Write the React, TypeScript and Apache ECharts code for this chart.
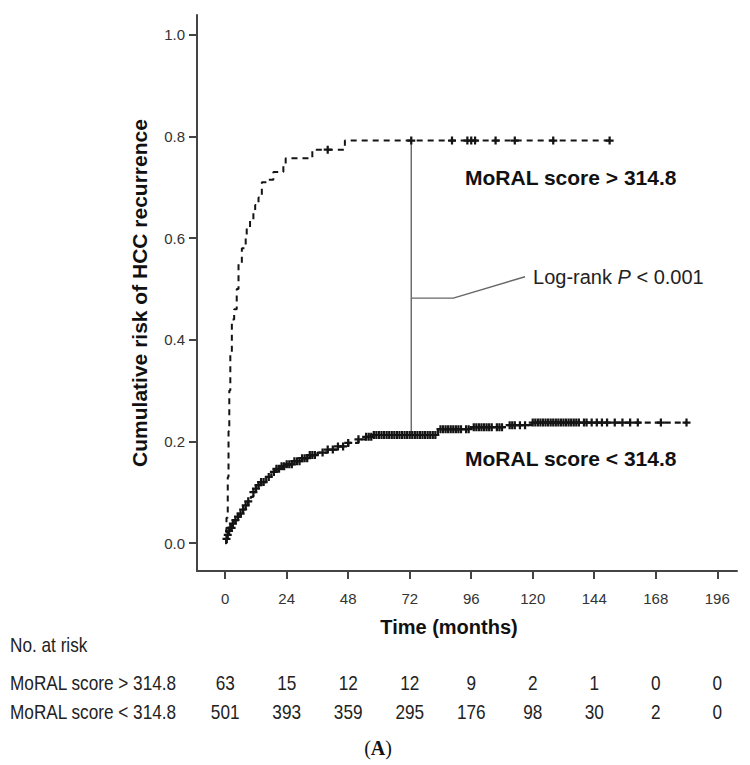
import React, { useEffect, useRef } from "react";
import * as echarts from "echarts";

// Axis ticks
const tickMonths = [0, 24, 48, 72, 96, 120, 144, 168, 192];
const tickLabels = ["0", "24", "48", "72", "96", "120", "144", "168", "196"];
const yTicks = [0, 0.2, 0.4, 0.6, 0.8, 1.0];

// KM step curve: MoRAL score > 314.8 (cumulative risk)
const highTimes = [0, 0.5, 1, 1.3, 1.6, 2.0, 2.6, 3.5, 4.5, 5.2, 6.5, 8, 8.4, 9.7, 11, 11.7, 13, 14.3, 17, 18.8, 22.7, 23.6, 34, 46.7, 150];
const highRisk = [0, 0.05, 0.13, 0.22, 0.3, 0.37, 0.44, 0.46, 0.5, 0.55, 0.58, 0.6, 0.62, 0.635, 0.65, 0.665, 0.68, 0.71, 0.715, 0.73, 0.745, 0.757, 0.774, 0.792, 0.792];
const highCensor = [40, 72.6, 88.5, 94.5, 96, 97.5, 105.5, 113, 128, 150];

// KM step curve: MoRAL score < 314.8
const lowTimes = [0, 0.5, 1, 1.5, 2, 3, 4, 5, 6, 7, 8, 9, 10, 11, 12, 13, 14, 16, 18, 20, 22, 24, 27, 30, 33, 36, 40, 44, 48, 52, 55, 58, 83, 96, 110, 119.5, 180];
const lowRisk = [0, 0.008, 0.016, 0.024, 0.03, 0.038, 0.045, 0.052, 0.058, 0.066, 0.074, 0.082, 0.091, 0.1, 0.107, 0.114, 0.12, 0.13, 0.14, 0.146, 0.151, 0.155, 0.161, 0.167, 0.173, 0.178, 0.184, 0.19, 0.197, 0.204, 0.209, 0.2126, 0.224, 0.228, 0.232, 0.237, 0.237];
const lowCensor = [0.5, 1, 1.5, 2, 2.5, 3, 4, 5, 6, 7, 8, 9, 11, 12, 13, 14, 15, 17, 19, 20, 21, 22, 23, 24, 25, 26, 27, 28, 29, 30, 31, 32, 33, 34, 35, 38, 40, 42, 44, 46, 48, 52, 55, 56, 57, 58, 59, 60, 61, 62, 63, 64, 65, 66, 67, 68, 69, 70, 71, 72, 73, 74, 75, 76, 77, 78, 79, 80, 81, 82, 84, 85, 86, 87, 88, 89, 90, 91, 92, 94, 95, 97, 98, 99, 100, 101, 102, 103, 104, 106, 107, 108, 111, 112, 113, 115, 117, 120, 121, 122, 123, 124, 125, 126, 127, 128, 129, 130, 131, 132, 133, 134, 135, 136, 137, 138, 140, 141, 143, 145, 147, 149, 152, 155, 158, 161, 170, 180];

// Number at risk
const riskHighRow = [63, 15, 12, 12, 9, 2, 1, 0, 0];
const riskLowRow = [501, 393, 359, 295, 176, 98, 30, 2, 0];
const riskRowNames = ["MoRAL score > 314.8", "MoRAL score < 314.8"];

// Log-rank annotation
const bracketMonth = 72.6;
const leaderPts = [[72.6, 0.482], [89, 0.482], [117, 0.524]];

const SANS = '"Liberation Sans", Arial, sans-serif';
const SERIF = '"Liberation Serif", "Times New Roman", serif';

function stepAt(t: number[], v: number[], m: number) {
  let r = v[0];
  for (let i = 0; i < t.length; i++) if (t[i] <= m) r = v[i];
  return r;
}

const plus = "path://M3.6,0H6.4V3.6H10V6.4H6.4V10H3.6V6.4H0V3.6H3.6Z";

export default function App() {
  const ref = useRef<HTMLDivElement>(null);
  useEffect(() => {
    if (!ref.current) return;
    const chart = echarts.init(ref.current, null, { renderer: "svg" });
    const lineCol = "#141414";
    const option: any = {
      animation: false,
      backgroundColor: "#fff",
      grid: { left: 197, right: 13, top: 15, bottom: 194, containLabel: false },
      xAxis: {
        type: "value", min: -11, max: 199.7,
        splitLine: { show: false },
        axisLine: { show: true, onZero: false, lineStyle: { color: "#444", width: 2 } },
        axisTick: { show: true, length: 8, customValues: tickMonths, lineStyle: { color: "#444", width: 2 } },
        axisLabel: {
          customValues: tickMonths, margin: 20, color: "#333", fontSize: 15, fontFamily: SANS,
          formatter: (v: number) => tickLabels[tickMonths.indexOf(v)] ?? "",
        },
      },
      yAxis: {
        type: "value", min: -0.055, max: 1.039,
        splitLine: { show: false },
        axisLine: { show: true, onZero: false, lineStyle: { color: "#444", width: 2 } },
        axisTick: { show: true, length: 8, customValues: yTicks, lineStyle: { color: "#444", width: 2 } },
        axisLabel: {
          customValues: yTicks, margin: 12, color: "#333", fontSize: 15, fontFamily: SANS,
          formatter: (v: number) => v.toFixed(1),
        },
        name: "Cumulative risk of HCC recurrence", nameLocation: "middle", nameGap: 47,
        nameTextStyle: { fontSize: 21, fontWeight: "bold", color: "#111", fontFamily: SANS },
      },
      series: [
        {
          type: "line", name: "bracket", symbol: "none",
          data: [[bracketMonth, stepAt(highTimes, highRisk, bracketMonth)], [bracketMonth, stepAt(lowTimes, lowRisk, bracketMonth)]],
          lineStyle: { color: "#666", width: 1.4 }, z: 1,
        },
        {
          type: "line", name: "leader", symbol: "none",
          data: leaderPts,
          lineStyle: { color: "#666", width: 1.4 }, z: 1,
        },
        {
          type: "line", name: "high", step: "end", symbol: "none",
          data: highTimes.map((t, i) => [t, highRisk[i]]),
          lineStyle: { color: lineCol, width: 2, type: [6, 5] }, z: 3,
        },
        {
          type: "line", name: "low", step: "end", symbol: "none",
          data: lowTimes.map((t, i) => [t, lowRisk[i]]),
          lineStyle: { color: lineCol, width: 2.2, type: [6, 4] }, z: 3,
        },
        {
          type: "scatter", name: "highC", symbol: plus, symbolSize: 8,
          data: highCensor.map((m) => [m, stepAt(highTimes, highRisk, m)]),
          itemStyle: { color: lineCol, opacity: 1 }, z: 4,
        },
        {
          type: "scatter", name: "lowC", symbol: plus, symbolSize: 8,
          data: lowCensor.map((m) => [m, stepAt(lowTimes, lowRisk, m)]),
          itemStyle: { color: lineCol, opacity: 1 }, z: 4,
        },
      ],
    };
    chart.setOption(option);

    // Positions derived from the chart's own scales
    const px = (m: number, v: number) => chart.convertToPixel({ gridIndex: 0 }, [m, v]) as number[];
    const leaderEnd = px(leaderPts[leaderPts.length - 1][0], leaderPts[leaderPts.length - 1][1]);
    const tableFont = `20px ${SANS}`;
    const narrow = 0.86;
    const rowY = [683, 712];
    const graphics: any[] = [
      {
        type: "text", x: 465, y: 177,
        style: { text: "MoRAL score > 314.8", fill: "#111", font: `bold 21px ${SANS}`, textAlign: "left", textVerticalAlign: "middle" },
      },
      {
        type: "text", x: 465, y: 458,
        style: { text: "MoRAL score < 314.8", fill: "#111", font: `bold 21px ${SANS}`, textAlign: "left", textVerticalAlign: "middle" },
      },
      {
        type: "text", x: leaderEnd[0] + 8, y: leaderEnd[1],
        style: {
          text: "{n|Log-rank }{i|P}{n| < 0.001}", fill: "#222", font: `20px ${SANS}`,
          textAlign: "left", textVerticalAlign: "middle",
          rich: {
            n: { fontSize: 20, fontFamily: SANS, fill: "#222" },
            i: { fontSize: 20, fontFamily: SANS, fontStyle: "italic", fill: "#222" },
          },
        },
      },
      {
        type: "text", x: 449, y: 627,
        style: { text: "Time (months)", fill: "#111", font: `bold 20px ${SANS}`, textAlign: "center", textVerticalAlign: "middle" },
      },
      {
        type: "text", x: 10, y: 645, scaleX: narrow,
        style: { text: "No. at risk", fill: "#222", font: tableFont, textAlign: "left", textVerticalAlign: "middle" },
      },
      ...riskRowNames.map((name, r) => ({
        type: "text", x: 10, y: rowY[r], scaleX: narrow,
        style: { text: name, fill: "#222", font: tableFont, textAlign: "left", textVerticalAlign: "middle" },
      })),
      ...[riskHighRow, riskLowRow].flatMap((row, r) =>
        row.map((n, i) => ({
          type: "text", x: px(tickMonths[i], 0)[0], y: rowY[r], scaleX: narrow,
          style: { text: String(n), fill: "#222", font: tableFont, textAlign: "center", textVerticalAlign: "middle" },
        }))
      ),
      {
        type: "text", x: 378, y: 748,
        style: {
          text: "({b|A})", fill: "#111", font: `20px ${SERIF}`,
          textAlign: "center", textVerticalAlign: "middle",
          rich: { b: { fontWeight: "bold", fontSize: 20, fontFamily: SERIF, fill: "#111" } },
        },
      },
    ];
    chart.setOption({ graphic: graphics });
    return () => chart.dispose();
  }, []);
  return (
    <div
      ref={ref}
      style={{ position: "fixed", left: 0, top: 0, width: 750, height: 765, background: "#fff" }}
    />
  );
}
